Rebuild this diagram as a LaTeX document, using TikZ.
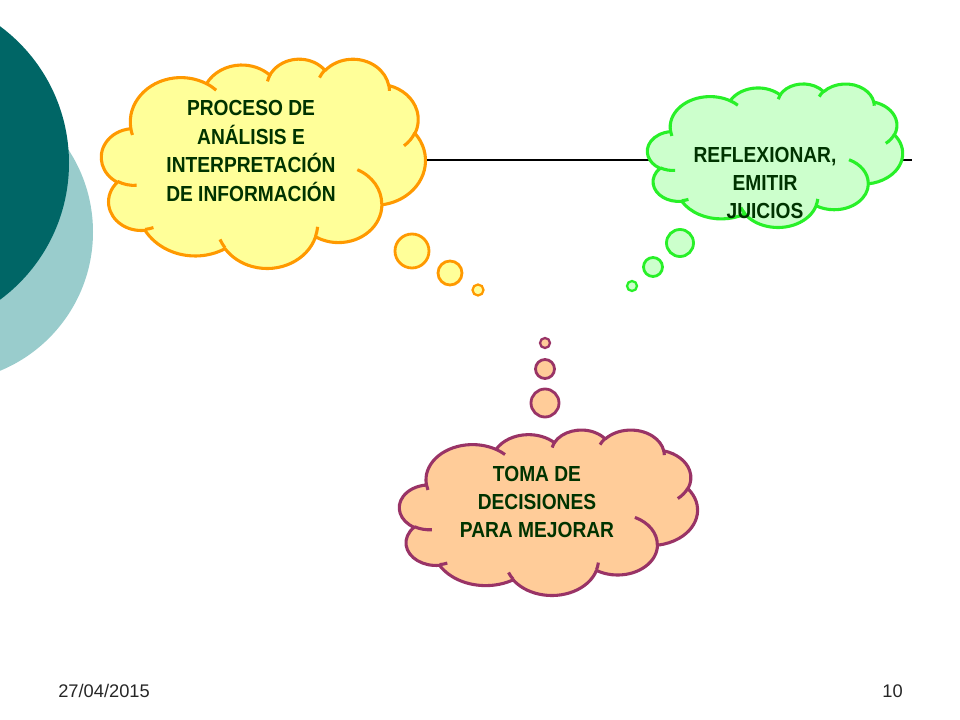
\documentclass[tikz,border=0pt]{standalone}
\usepackage{fontspec}
\setmainfont{Liberation Sans}
\newfontfamily\cloudfont[FakeStretch=0.88]{Liberation Sans}
\definecolor{tealdark}{RGB}{0,102,102}
\definecolor{teallight}{RGB}{153,204,204}
\definecolor{textgreen}{RGB}{0,51,0}
\definecolor{ylwfill}{RGB}{255,255,153}
\definecolor{ylwline}{RGB}{255,153,0}
\definecolor{grnfill}{RGB}{204,255,204}
\definecolor{grnline}{RGB}{40,240,40}
\definecolor{pchfill}{RGB}{255,204,153}
\definecolor{pchline}{RGB}{153,51,102}
% cloud outline in a 432x432 box: #1,#2 top left, #3,#4 size, #5 fill, #6 line
\newcommand{\thoughtcloud}[6]{%
  \begin{scope}[shift={(#1,#2)}, x={#3/432*0.70866pt}, y={-#4/432*0.70866pt}]
    \filldraw[fill=#5, draw=#6, cloudline] (39.00,143.70)
      arc[pptarc={67.53}{91.90}{-190.4875}{123.7805}]
      arc[pptarc={53.33}{72.67}{-144.1024}{89.9452}]
      arc[pptarc={43.65}{59.45}{-145.8079}{99.7230}]
      arc[pptarc={48.57}{65.95}{-130.9861}{117.2417}]
      arc[pptarc={53.33}{72.73}{-78.7089}{109.0269}]
      arc[pptarc={67.75}{92.20}{-46.2673}{130.2690}]
      arc[pptarc={57.85}{78.67}{0.6250}{114.0333}]
      arc[pptarc={67.52}{92.15}{22.4516}{115.1726}]
      arc[pptarc={77.20}{105.43}{66.2426}{75.7110}]
      arc[pptarc={43.60}{59.18}{-274.9421}{146.7356}]
      arc[pptarc={43.45}{59.45}{-246.8285}{152.5189}] -- cycle;
    % inner folds
    \draw[#6, cloudline]
      (46.93,261.77) arc[pptarc={43.45}{59.45}{86.7420}{26.4295}]
      (69.28,348.99) arc[pptarc={43.60}{59.18}{73.6105}{11.4475}]
      (164.78,390.90) arc[pptarc={67.52}{92.15}{137.6242}{14.0811}]
      (288.27,347.51) arc[pptarc={67.52}{92.15}{6.4533}{15.9984}]
      (341.29,229.54) arc[pptarc={57.85}{78.67}{-70.2924}{70.9174}]
      (417.98,153.54) arc[pptarc={53.33}{72.73}{30.3180}{27.7515}]
      (383.24,54.26) arc[pptarc={48.57}{65.95}{-13.7443}{14.8589}]
      (290.78,39.52) arc[pptarc={48.57}{65.95}{-149.1815}{18.1954}]
      (221.41,47.20) arc[pptarc={43.65}{59.45}{-163.4943}{17.6864}]
      (140.00,51.92) arc[pptarc={67.53}{91.90}{-66.7070}{12.3194}]
      (41.27,157.89) arc[pptarc={67.53}{91.90}{157.6544}{11.8582}];
  \end{scope}}
\begin{document}
\begin{tikzpicture}[x=0.025cm, y=-0.025cm,
  pptarc/.style n args={4}{start angle={atan2(#1*sin(#3),#2*cos(#3))},
    delta angle={mod(atan2(#1*sin(#3+#4),#2*cos(#3+#4))-atan2(#1*sin(#3),#2*cos(#3))+720,360)},
    x radius=#1, y radius=#2},
  cloudline/.style={line width=2.2pt, line join=round},
  cloudtext/.style={font=\cloudfont\bfseries\fontsize{15.5}{20.2}\selectfont, text=textgreen, align=center},
  footer/.style={font=\fontsize{13}{15}\selectfont, text=black!85}]
  \useasboundingbox (0,0) rectangle (960,720);
  \clip (0,0) rectangle (960,720);

  % Teal discs at the left edge (draw FIRST)
  \fill[teallight] (-57,232) circle [radius=150];
  \fill[tealdark] (-101,163) circle [radius=170];

  % Analysis cloud and its bubbles
  \thoughtcloud{101.5}{58.5}{325}{210}{ylwfill}{ylwline}
  \node[cloudtext] (procText) at (251,151) {PROCESO DE\\ANÁLISIS E\\INTERPRETACIÓN\\DE INFORMACIÓN};
  \filldraw[fill=ylwfill, draw=ylwline, line width=2pt] (412,251) circle [radius=17];
  \filldraw[fill=ylwfill, draw=ylwline, line width=2pt] (450,273) circle [radius=12];
  \filldraw[fill=ylwfill, draw=ylwline, line width=1.6pt] (478,290) circle [radius=5.5];

  % Horizontal rule (behind the green cloud)
  \coordinate (ruleStart) at (427,160);
  \coordinate (ruleEnd) at (912,160);
  \draw[line width=0.75pt] (ruleStart) -- (ruleEnd);

  % Reflection cloud and its bubbles
  \thoughtcloud{647.5}{83.5}{256}{144}{grnfill}{grnline}
  \node[cloudtext] (reflText) at (765,183) {REFLEXIONAR,\\EMITIR\\JUICIOS};
  \filldraw[fill=grnfill, draw=grnline, line width=2pt] (680,243) circle [radius=13.5];
  \filldraw[fill=grnfill, draw=grnline, line width=2pt] (653,267) circle [radius=9.5];
  \filldraw[fill=grnfill, draw=grnline, line width=1.6pt] (632,286) circle [radius=5];

  % Decision cloud and its bubbles
  \thoughtcloud{399.5}{429.5}{299}{166}{pchfill}{pchline}
  \node[cloudtext] (decText) at (537,502) {TOMA DE\\DECISIONES\\PARA MEJORAR};
  \filldraw[fill=pchfill, draw=pchline, line width=1.6pt] (545,343) circle [radius=5];
  \filldraw[fill=pchfill, draw=pchline, line width=2pt] (545,369) circle [radius=9.5];
  \filldraw[fill=pchfill, draw=pchline, line width=2pt] (545,403) circle [radius=14];

  % Footer
  \node[footer, anchor=base west, inner sep=0pt] (dateLbl) at (58,697) {27/04/2015};
  \node[footer, anchor=base east, inner sep=0pt] (pageLbl) at (903,697) {10};
\end{tikzpicture}
\end{document}
